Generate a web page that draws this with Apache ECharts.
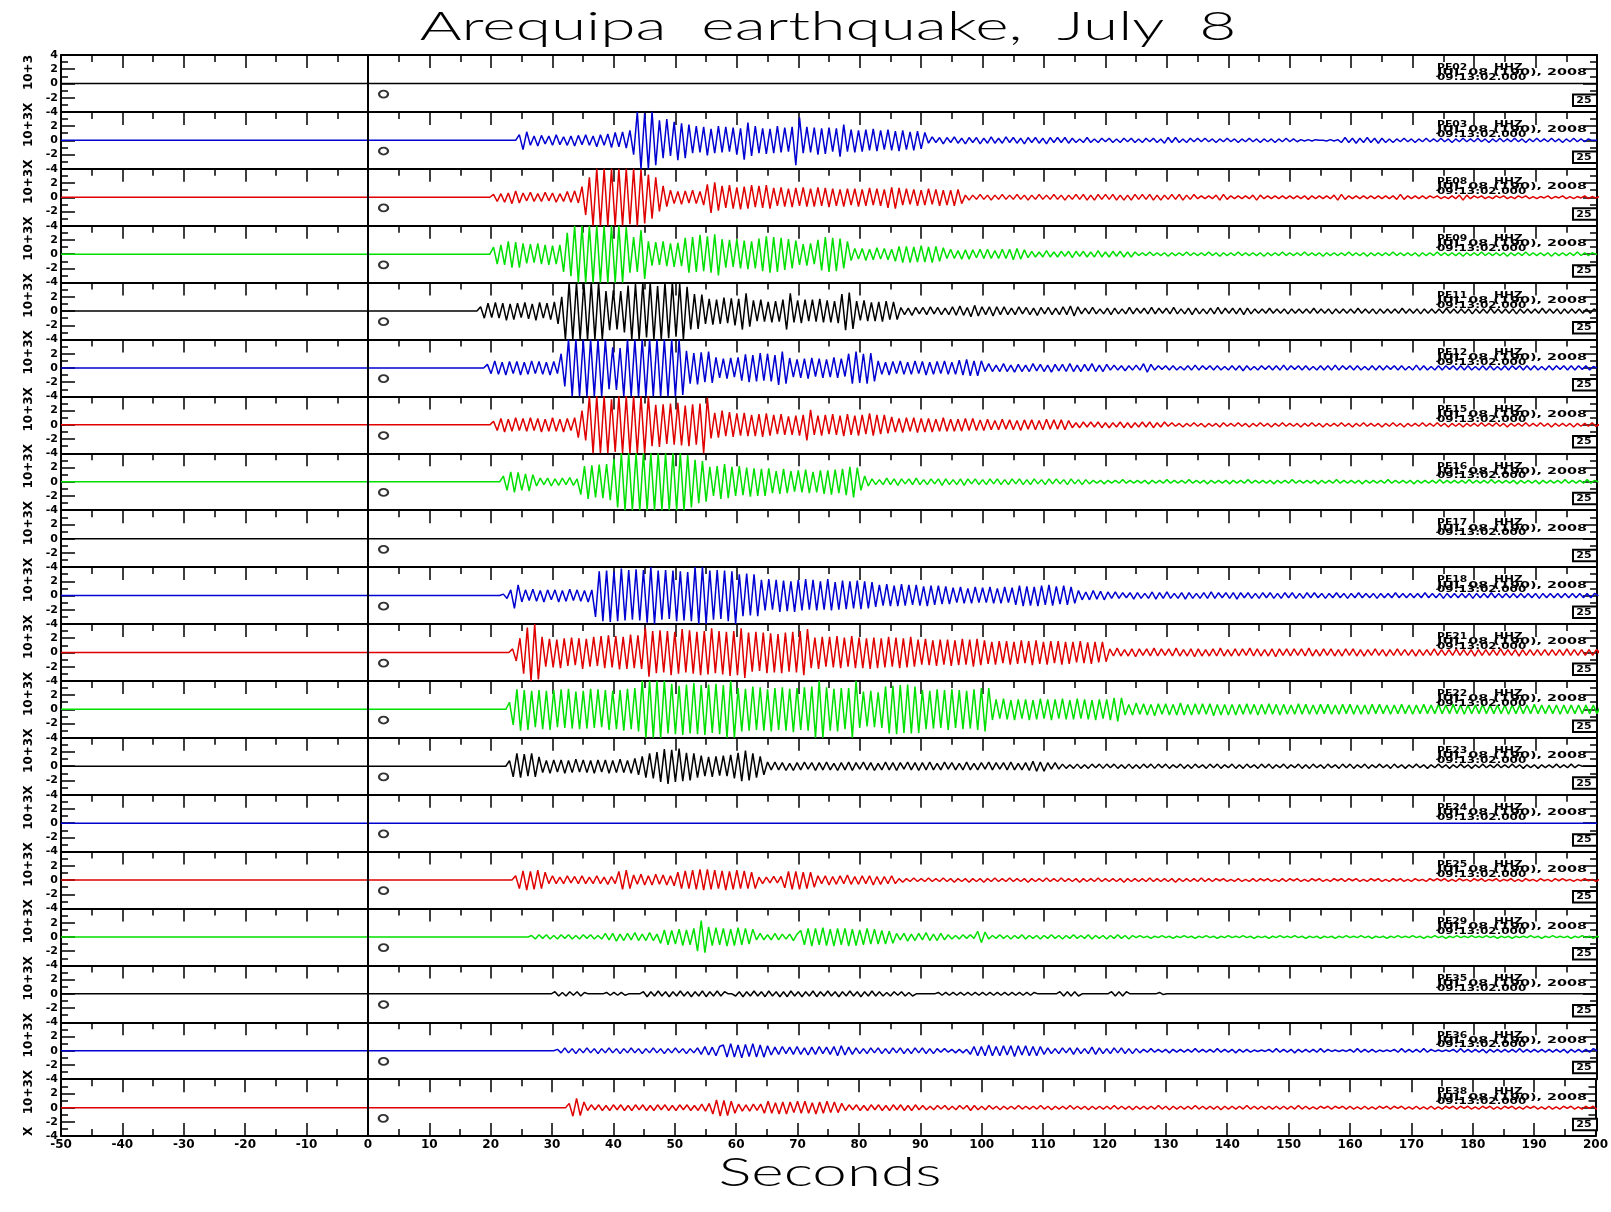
<!DOCTYPE html>
<html>
<head>
<meta charset="utf-8">
<script src="https://cdn.jsdelivr.net/npm/echarts@6/dist/echarts.min.js"></script>
<style>html,body{margin:0;padding:0;background:#fff}#chart{width:1611px;height:1212px}</style>
</head>
<body>
<div id="chart"></div>
<script>
// ---------------- DATA ----------------
const STATIONS = ['PE02','PE03','PE08','PE09','PE11','PE12','PE15','PE16','PE17','PE18','PE21','PE22','PE23','PE24','PE25','PE29','PE35','PE36','PE38'];
const ONSET = [null,24.0,19.8,19.8,17.7,18.8,19.8,21.4,null,21.4,22.9,22.4,22.4,null,23.4,26.0,29.8,30.2,32.2]; // seconds
const TIME_STEP = 0.6;            // seconds between successive peak values
const X_TICKS = [-50,-40,-30,-20,-10,0,10,20,30,40,50,60,70,80,90,100,110,120,130,140,150,160,170,180,190,200];
const Y_TICKS = [-4,-2,0,2,4];
const CHANNEL = 'HHZ';
const DATE_TEXT = 'JUL 08 (190), 2008';
const TIME_TEXT = '09:13:02.000';
const GAIN_TEXT = '25';
const ORIGIN_MARK = [2.5, -1.5];

// peak amplitudes in tenths of a unit (x 10+3)
const PE02 = [];
const PE03 = [8,-13,12,-7,6,-8,7,-5,6,-7,8,-6,5,-7,6,-8,7,-6,8,-7,6,-9,8,-7,9,-10,11,-9,12,-11,14,-20,40,-40,38,-40,40,-35,28,-25,30,-22,26,-28,24,-25,22,-18,20,-17,19,-21,16,-18,20,-17,19,-16,18,-20,17,-27,25,-22,20,-18,17,-19,16,-18,20,-17,18,-16,19,-35,32,-18,19,-17,18,-20,17,-19,18,-16,17,-23,22,-16,15,-17,14,-16,15,-14,16,-15,14,-13,15,-14,13,-15,14,-13,12,-14,13,-12,11,-4,5,-3,4,-5,4,-3,5,-4,3,-5,4,-3,4,-5,3,-4,5,-4,3,-4,5,-3,4,-4,3,-5,4,-3,4,-4,3,-5,4,-3,4,-3,4,-4,3,-3,2,-3,4,-3,2,-3,3,-2,3,-3,2,-3,3,-2,3,-3,2,-3,3,-2,3,-3,2,-4,4,-3,4,-3,2,-3,3,-2,3,-2,3,-2,2,-3,2,-2,3,-2,2,-3,2,-2,3,-2,2,-3,2,-2,2,-3,2,-2,3,-2,2,-2,1,-1,1,-1,1,0,0,-1,1,-1,1,-3,4,-3,3,-4,3,-3,4,-3,3,-4,3,-3,2,-3,2,-2,3,-2,2,-3,2,-2,3,-2,2,-2,3,-2,2,-3,2,-2,3,-2,2,-2,3,-2,2,-3,2,-2,3,-2,2,-2,3,-2,2,-3,2,-2,3,-2,2,-2,3,-2,2,-3,2,-2,3,-2,2,-2,2];
const PE08 = [4,-6,5,-7,6,-9,9,-8,6,-5,7,-6,5,-6,7,-5,6,-7,5,-6,8,-7,9,-8,15,-25,28,-40,40,-40,40,-40,40,-40,40,-40,40,-38,40,-40,39,-37,32,-30,28,-20,16,-13,10,-9,8,-10,9,-8,10,-9,8,-11,18,-22,21,-19,16,-15,17,-16,14,-17,15,-16,17,-14,16,-15,17,-16,13,-12,14,-13,12,-14,13,-12,14,-13,12,-13,14,-12,13,-14,12,-12,11,-13,12,-11,12,-13,11,-12,13,-11,12,-12,11,-15,14,-16,13,-11,12,-10,11,-12,10,-11,12,-10,11,-12,10,-11,10,-12,11,-9,3,-4,3,-3,4,-3,3,-4,3,-3,4,-3,3,-3,4,-3,3,-4,3,-3,4,-3,3,-3,4,-3,3,-4,3,-3,4,-3,4,-4,3,-4,4,-3,4,-3,4,-4,3,-4,3,-4,4,-3,4,-3,4,-4,3,-4,3,-3,4,-3,4,-4,3,-3,4,-2,2,-2,2,-2,3,-4,4,-3,2,-2,2,-2,2,-2,3,-4,3,-2,2,-2,2,-2,2,-2,2,-2,2,-2,2,-3,2,-2,2,-2,2,-2,3,-4,4,-3,2,-2,2,-2,2,-2,2,-2,2,-2,2,-2,2,-3,4,-3,2,-2,2,-2,2,-2,2,-1,2,-2,1,-2,2,-2,3,-4,3,-2,2,-1,2,-2,1,-2,2,-1,2,-2,1,-2,2,-1,2,-2,1,-2,1,-1,2,-2,1,-1,2,-2,1,-2,1,-1,2,-2,1,-1,1,-1,1];
const PE09 = [10,-14,13,-15,18,-19,17,-19,15,-13,14,-12,15,-14,13,-15,12,-14,13,-25,30,-31,40,-40,40,-40,40,-40,40,-40,40,-40,40,-40,40,-40,38,-26,24,-25,34,-35,18,-16,17,-15,18,-17,15,-18,16,-17,23,-26,24,-25,27,-24,25,-26,28,-30,21,-19,20,-18,21,-20,19,-21,18,-20,22,-24,25,-26,24,-25,23,-22,21,-20,19,-15,14,-16,15,-14,20,-23,24,-25,23,-24,22,-20,18,-9,8,-7,8,-9,7,-8,9,-7,8,-8,7,-10,11,-12,11,-12,10,-11,12,-11,10,-12,11,-10,9,-6,7,-6,5,-7,6,-7,6,-5,7,-6,7,-6,5,-6,7,-6,7,-8,8,-7,6,-5,4,-4,3,-4,5,-4,3,-4,4,-3,4,-5,4,-3,4,-4,3,-4,5,-4,3,-4,4,-3,4,-4,3,-4,3,-2,2,-2,3,-2,2,-2,2,-3,2,-2,2,-2,3,-2,2,-2,2,-2,3,-2,2,-3,2,-2,2,-2,3,-2,2,-2,2,-2,2,-3,2,-2,2,-2,3,-2,2,-2,2,-2,3,-2,2,-2,2,-3,2,-2,2,-2,2,-2,3,-2,2,-2,2,-3,2,-2,2,-2,2,-2,3,-2,2,-2,2,-2,2,-3,2,-2,2,-2,3,-2,2,-2,2,-2,2,-3,2,-2,2,-2,3,-2,2,-2,2,-2,2,-3,2,-2,2,-2,3,-2,2,-2,2,-2,2,-3,2,-2,2,-2,2,-2,3,-2,2,-2,2];
const PE11 = [6,-10,11,-9,12,-10,11,-13,10,-12,11,-9,12,-11,10,-13,12,-10,11,-12,13,-18,20,-40,40,-40,40,-40,40,-40,40,-40,40,-40,28,-27,29,-26,28,-30,36,-40,38,-40,40,-37,40,-40,35,-40,40,-38,40,-36,38,-40,34,-26,24,-25,23,-18,17,-19,16,-18,19,-17,18,-20,17,-26,25,-22,15,-14,16,-15,13,-16,14,-15,16,-26,25,-16,15,-17,16,-14,16,-15,17,-16,15,-16,14,-17,24,-27,26,-25,14,-13,15,-14,12,-14,13,-15,14,-12,13,-12,5,-5,4,-6,5,-4,5,-5,6,-4,5,-5,4,-5,6,-6,7,-6,5,-8,8,-7,6,-5,6,-7,6,-5,6,-5,4,-5,6,-4,5,-5,4,-6,5,-4,5,-5,4,-5,6,-5,7,-7,6,-4,4,-4,5,-4,3,-4,4,-5,4,-4,3,-4,5,-4,4,-3,4,-4,5,-4,4,-3,4,-4,5,-4,3,-4,4,-5,4,-4,3,-4,4,-4,5,-4,4,-3,4,-4,4,-5,4,-4,3,-3,3,-3,4,-3,3,-3,3,-4,3,-3,3,-3,3,-3,4,-3,3,-3,3,-4,3,-3,3,-3,3,-3,4,-3,3,-3,3,-4,3,-3,3,-3,3,-3,4,-3,3,-3,3,-4,3,-3,3,-3,3,-3,4,-3,3,-3,3,-3,3,-4,3,-3,3,-3,4,-3,3,-3,3,-3,3,-4,3,-3,3,-3,3,-3,4,-3,3,-3,3,-4,3,-3,3,-3,3,-3,3,-3,3];
const PE12 = [5,-8,10,-9,8,-10,9,-8,9,-10,8,-9,10,-8,9,-9,8,-10,9,-8,20,-26,40,-40,40,-40,40,-40,40,-40,40,-40,40,-30,29,-31,28,-40,40,-40,40,-40,40,-40,40,-40,40,-40,40,-40,40,-40,40,-38,24,-22,21,-23,22,-20,23,-21,15,-14,13,-15,14,-13,15,-18,19,-20,18,-19,21,-18,20,-19,18,-24,23,-22,14,-13,12,-14,13,-15,14,-12,13,-14,12,-13,15,-14,13,-12,20,-22,23,-21,20,-22,21,-19,10,-9,8,-10,9,-8,10,-9,8,-9,10,-8,9,-10,8,-9,9,-8,10,-9,8,-9,11,-10,12,-11,10,-11,10,-5,6,-5,4,-5,6,-5,4,-6,5,-5,4,-5,6,-4,5,-5,4,-6,5,-4,5,-5,6,-5,4,-5,5,-4,6,-5,4,-5,5,-3,4,-3,3,-4,3,-3,4,-3,6,-6,5,-3,3,-2,3,-3,3,-3,2,-3,3,-3,4,-3,3,-2,3,-3,3,-3,2,-3,3,-3,3,-4,3,-3,2,-3,3,-2,3,-3,3,-3,4,-3,3,-2,3,-3,3,-3,2,-3,3,-3,3,-3,4,-3,3,-2,3,-3,3,-3,2,-3,3,-3,3,-3,3,-2,3,-3,3,-3,2,-3,4,-3,3,-3,2,-3,3,-3,3,-2,3,-3,3,-3,3,-3,2,-3,3,-3,3,-3,2,-3,3,-3,3,-2,3,-3,3,-3,3,-3,2,-3,3,-3,3,-2,3,-3,3,-3,3,-2,3,-3,2];
const PE15 = [5,-8,9,-10,8,-9,10,-8,9,-9,10,-8,9,-10,8,-9,10,-9,8,-10,9,-8,10,-18,20,-22,40,-40,40,-40,40,-40,36,-38,40,-40,40,-40,40,-40,40,-40,40,-30,28,-31,29,-27,30,-28,31,-29,27,-30,29,-28,30,-40,38,-19,17,-18,20,-16,18,-17,16,-15,17,-16,14,-16,15,-17,16,-15,14,-13,15,-14,12,-14,13,-15,14,-22,21,-14,13,-15,14,-13,15,-14,13,-16,15,-14,13,-15,14,-13,16,-15,14,-13,14,-12,11,-10,9,-11,10,-9,10,-11,9,-10,9,-10,8,-9,10,-9,8,-9,8,-9,9,-8,9,-8,7,-8,8,-7,6,-7,8,-6,7,-7,6,-8,7,-6,7,-7,6,-7,8,-6,7,-6,7,-7,6,-4,3,-4,4,-3,4,-3,4,-4,3,-4,3,-3,4,-4,3,-4,3,-3,4,-3,4,-4,3,-3,4,-2,3,-2,2,-3,2,-2,3,-2,2,-3,2,-2,2,-3,3,-2,2,-2,3,-2,2,-3,2,-2,3,-2,2,-3,2,-2,3,-2,2,-2,2,-3,2,-2,3,-2,2,-3,2,-2,2,-2,3,-2,2,-3,2,-2,3,-2,2,-2,2,-3,2,-2,3,-2,2,-3,2,-2,2,-2,3,-2,2,-2,3,-2,2,-3,2,-2,2,-3,2,-2,2,-2,3,-2,2,-2,3,-2,2,-3,2,-2,2,-2,3,-2,2,-2,3,-2,2,-3,2,-2,2,-2,2,-3,2,-2,2,-2,3,-2];
const PE16 = [8,-12,14,-15,13,-12,11,-13,10,-6,5,-4,5,-6,4,-5,5,-4,6,-5,4,-18,22,-24,23,-22,24,-23,25,-26,32,-36,40,-40,40,-40,40,-40,40,-40,40,-40,40,-40,40,-40,40,-40,40,-40,38,-36,31,-30,29,-28,21,-20,22,-24,25,-23,21,-20,22,-19,20,-21,19,-20,18,-20,19,-16,15,-17,18,-16,15,-14,16,-15,17,-16,14,-15,16,-17,16,-18,17,-16,18,-19,21,-22,20,-12,8,-6,4,-4,3,-4,5,-4,4,-5,4,-3,4,-4,5,-4,3,-4,4,-3,4,-5,4,-4,3,-4,4,-5,4,-3,4,-4,3,-4,4,-3,4,-4,3,-4,4,-3,4,-4,3,-4,4,-3,3,-4,4,-3,4,-3,3,-4,4,-3,3,-4,3,-3,2,-2,2,-3,2,-2,2,-2,3,-2,2,-2,2,-2,2,-3,2,-2,2,-2,3,-2,2,-2,2,-2,3,-2,2,-2,2,-3,2,-2,2,-2,2,-3,2,-2,2,-2,3,-2,2,-2,2,-2,2,-3,2,-2,2,-2,3,-2,2,-2,2,-2,2,-3,2,-2,2,-2,3,-2,2,-2,2,-2,2,-3,2,-2,2,-2,2,-2,3,-2,2,-2,2,-2,2,-3,2,-2,2,-2,2,-2,3,-2,2,-2,2,-2,2,-2,3,-2,2,-2,2,-2,3,-2,2,-2,2,-2,2,-3,2,-2,2,-2,2,-3,2,-2,2,-2,2,-2,3,-2,2,-2,2,-2,3,-2,2];
const PE17 = [];
const PE18 = [2,-4,8,-18,15,-9,8,-7,9,-8,7,-9,8,-6,8,-9,7,-8,9,-7,8,-8,7,-9,8,-30,34,-36,35,-37,34,-36,38,-35,36,-34,37,-35,36,-38,40,-40,35,-34,36,-33,35,-36,34,-35,33,-36,40,-40,40,-40,35,-34,36,-33,35,-36,34,-40,30,-29,31,-28,30,-29,22,-21,23,-20,22,-23,21,-22,20,-23,22,-21,23,-20,22,-21,20,-20,23,-21,19,-20,21,-19,20,-18,21,-19,20,-18,19,-16,15,-14,16,-15,14,-15,16,-14,15,-13,15,-14,13,-15,14,-13,14,-12,13,-12,11,-10,12,-11,10,-11,12,-10,11,-10,12,-11,10,-11,12,-10,11,-13,14,-15,13,-14,12,-15,14,-13,15,-14,13,-12,14,-13,12,-11,7,-6,5,-6,7,-5,6,-6,5,-4,5,-4,4,-3,4,-5,4,-4,3,-4,5,-5,4,-4,5,-4,3,-4,4,-5,4,-4,3,-4,4,-4,5,-4,4,-3,4,-4,4,-5,4,-3,4,-4,3,-4,4,-3,4,-4,3,-4,4,-3,4,-4,3,-4,4,-3,4,-3,3,-4,3,-3,4,-3,3,-4,3,-3,4,-3,3,-3,3,-4,3,-3,3,-3,4,-3,3,-3,3,-3,3,-3,4,-3,3,-3,3,-4,3,-3,3,-3,3,-3,3,-4,3,-3,3,-3,4,-3,3,-3,3,-3,3,-3,3,-3,3,-3,3,-4,3,-3,3,-3,3,-3,3,-3,3,-3,3,-3,3,-3,3];
const PE21 = [5,-12,20,-30,35,-40,40,-38,22,-20,19,-21,18,-22,20,-19,21,-18,20,-23,19,-20,22,-19,23,-22,24,-21,23,-24,22,-23,25,-22,24,-23,35,-34,30,-29,31,-28,30,-32,29,-30,33,-28,31,-30,29,-32,30,-31,34,-29,30,-31,29,-33,30,-32,34,-36,28,-27,29,-26,28,-29,27,-28,26,-29,28,-27,29,-28,30,-32,33,-22,21,-23,22,-20,22,-21,23,-22,21,-20,23,-22,21,-22,20,-23,21,-22,20,-21,22,-20,21,-22,20,-21,22,-20,18,-17,19,-18,17,-19,18,-17,18,-19,17,-18,19,-17,18,-20,19,-18,17,-16,15,-17,16,-15,16,-17,15,-16,17,-15,16,-18,17,-16,15,-17,16,-15,16,-17,15,-16,15,-14,16,-15,14,-16,15,-14,15,-13,5,-5,6,-5,4,-5,5,-6,5,-4,5,-5,6,-5,5,-4,5,-5,6,-5,4,-5,5,-6,5,-5,4,-5,5,-5,6,-5,4,-5,5,-5,5,-4,6,-5,5,-5,4,-5,5,-6,5,-4,5,-5,5,-4,5,-5,6,-5,4,-5,5,-4,5,-5,4,-5,5,-4,5,-5,4,-5,4,-4,5,-4,4,-5,4,-4,5,-4,4,-4,4,-5,4,-4,4,-4,5,-4,4,-4,4,-4,5,-4,4,-4,4,-5,4,-4,4,-4,4,-4,5,-4,4,-4,4,-5,4,-4,4,-4,4,-4,4,-4,4,-4,4,-4,5,-4,4,-4,4,-4,4,-4,4];
const PE22 = [10,-22,28,-30,27,-29,26,-25,27,-28,26,-29,27,-25,28,-26,29,-27,25,-28,26,-27,29,-26,28,-25,27,-29,26,-28,27,-30,29,-28,30,-31,40,-40,40,-40,40,-40,40,-34,36,-35,33,-36,35,-34,37,-35,34,-36,35,-33,36,-35,34,-40,40,-40,30,-31,29,-30,32,-29,31,-30,28,-31,30,-29,31,-30,29,-32,30,-29,31,-30,32,-40,40,-40,31,-30,29,-31,30,-28,30,-40,40,-26,25,-24,26,-25,24,-26,32,-34,33,-35,34,-33,35,-34,32,-33,27,-28,26,-27,28,-26,27,-29,28,-26,27,-28,26,-27,28,-29,30,-31,30,-15,14,-13,15,-14,13,-15,14,-13,14,-15,13,-14,15,-13,14,-15,14,-13,15,-14,13,-14,15,-13,14,-14,13,-15,14,-13,14,-15,16,-17,16,-8,7,-8,9,-7,8,-8,7,-9,8,-7,8,-8,7,-8,9,-8,7,-8,8,-7,8,-7,8,-9,7,-8,7,-8,7,-8,7,-7,8,-7,7,-8,7,-7,8,-7,7,-8,7,-7,6,-7,8,-7,7,-7,6,-7,7,-6,7,-7,6,-7,7,-6,7,-7,6,-7,6,-7,7,-6,7,-6,6,-7,6,-6,7,-6,6,-7,6,-6,7,-6,6,-6,7,-6,6,-6,7,-6,6,-7,6,-6,6,-6,7,-6,6,-6,6,-6,6,-7,6,-6,6,-6,6,-6,7,-6,6,-6,6,-6,6,-7,6,-6,6,-6,6,-6,6,-6,6,-6,6];
const PE23 = [8,-15,18,-16,17,-14,18,-15,13,-9,8,-10,9,-8,9,-10,8,-9,10,-8,9,-9,8,-10,9,-8,9,-10,8,-9,10,-9,8,-10,11,-12,14,-16,18,-17,20,-22,24,-25,23,-22,25,-21,19,-20,18,-16,15,-14,13,-15,14,-13,15,-14,16,-17,19,-21,22,-20,18,-16,14,-12,6,-5,6,-5,5,-6,4,-6,5,-5,6,-4,5,-6,5,-5,6,-5,4,-6,5,-5,6,-6,5,-4,6,-5,5,-6,4,-5,6,-5,5,-6,5,-4,6,-5,5,-6,5,-5,6,-5,4,-5,6,-4,5,-5,4,-5,6,-5,4,-5,5,-4,6,-5,5,-4,5,-5,6,-5,4,-5,5,-6,7,-7,6,-7,5,-4,5,-4,3,-3,2,-3,3,-3,2,-3,3,-2,3,-3,3,-2,3,-3,2,-3,3,-3,2,-3,3,-2,3,-3,3,-2,3,-3,2,-2,3,-3,2,-3,3,-2,2,-3,3,-2,3,-3,2,-2,3,-3,2,-3,3,-2,2,-3,3,-2,3,-3,2,-2,3,-3,2,-2,3,-3,2,-3,3,-2,2,-3,3,-2,2,-3,3,-2,3,-3,2,-2,3,-3,2,-2,3,-2,2,-3,3,-2,2,-3,2,-2,3,-2,2,-3,2,-2,3,-2,2,-3,2,-2,3,-2,2,-3,2,-2,3,-2,2,-2,3,-2,2,-2,3,-2,2,-3,2,-2,2,-3,2,-2,2,-2,3,-2,2,-2,3,-2,2];
const PE24 = [];
const PE25 = [6,-12,13,-14,12,-13,14,-12,11,-5,6,-5,4,-5,6,-4,5,-5,6,-5,4,-5,6,-5,4,-6,5,-5,12,-13,14,-12,7,-6,8,-7,6,-7,8,-6,7,-7,6,-8,11,-12,13,-12,14,-13,15,-14,15,-13,14,-12,13,-14,12,-13,14,-12,13,-12,11,-12,4,-5,4,-4,5,-4,5,-11,12,-13,12,-13,11,-12,11,-10,6,-5,6,-7,5,-6,6,-5,7,-6,5,-6,6,-5,6,-7,5,-6,5,-5,6,-5,2,-3,2,-2,3,-2,2,-2,3,-2,2,-2,3,-2,2,-3,2,-2,2,-3,2,-2,2,-3,2,-2,3,-2,2,-2,3,-2,2,-2,2,-3,2,-2,2,-2,3,-2,2,-2,3,-2,2,-2,2,-3,2,-2,2,-2,3,-2,2,-2,2,-2,2,-3,2,-2,2,-2,2,-2,3,-2,2,-2,2,-2,2,-3,2,-2,2,-2,2,-2,3,-2,2,-2,2,-1,2,-2,1,-2,2,-2,1,-2,2,-2,2,-1,2,-2,1,-2,2,-2,2,-1,2,-2,1,-2,2,-1,2,-2,1,-2,2,-1,2,-2,2,-1,2,-2,1,-2,2,-1,2,-2,1,-2,2,-1,2,-2,1,-2,2,-1,1,-2,2,-1,2,-1,2,-2,1,-2,2,-1,1,-2,2,-1,2,-2,1,-1,2,-2,1,-1,2,-2,1,-2,2,-1,1,-2,2,-1,1,-2,2,-1,2,-1,1,-2,1,-1,2,-1,1,-2,1,-1];
const PE29 = [2,-3,3,-2,3,-3,2,-3,3,-2,3,-3,2,-3,3,-2,3,-3,2,-3,5,-4,5,-6,4,-5,5,-4,6,-5,4,-5,6,-5,4,-9,10,-11,9,-10,11,-12,10,-11,12,-20,23,-22,14,-12,13,-11,12,-13,11,-12,13,-11,12,-10,11,-4,5,-4,3,-4,5,-4,4,-3,4,-5,4,9,-11,12,-13,12,-11,13,-12,11,-13,12,-11,12,-13,11,-12,10,-11,12,-10,11,-10,9,-10,8,-9,5,-4,5,-6,4,-5,5,-4,6,-5,4,-5,5,-4,3,-3,2,-3,3,-2,3,-2,8,-8,7,-3,2,-2,3,-2,2,-3,2,-2,3,-3,2,-2,2,-3,2,-2,3,-2,2,-3,2,-2,3,-2,2,-2,3,-3,2,-2,2,-3,2,-2,3,-2,2,-3,2,-1,2,-1,1,-2,1,-1,2,-1,1,-2,1,-1,2,-1,1,-2,1,-1,2,-1,1,-2,1,-1,2,-1,1,-1,2,-1,1,-2,1,-1,1,-2,1,-1,2,-1,1,-1,2,-1,1,-2,1,-1,1,-2,1,-1,1,-2,1,-1,2,-1,1,-1,2,-1,1,-2,1,-1,1,-2,1,-1,2,-1,1,-1,2,-1,1,-2,1,-1,2,-1,1,-2,1,-1,2,-1,1,-1,2,-1,1,-1,2,-1,1,-2,1,-1,1,-2,1,-1,1,-1,2,-1,1,-2,1,-1,2,-1,1,-1,1,-2,1,-1,2,-1,1,-2,1,-1];
const PE35 = [3,-3,2,-3,3,-2,3,-3,2,0,0,0,0,0,2,-2,2,-2,2,-2,0,0,0,0,3,-4,3,-3,4,-3,3,-4,3,-3,4,-3,3,-4,3,-3,4,-4,3,-3,4,-3,3,0,0,-3,3,-4,3,-3,4,-3,3,-4,4,-3,3,-4,3,-4,4,-3,3,-4,3,-3,4,-4,3,-3,4,-3,3,-4,3,-3,4,-3,3,-4,3,-3,4,-3,3,-3,2,-3,3,-2,3,-3,2,-3,0,0,0,0,0,0,2,-2,2,-2,2,-2,2,-2,2,-2,2,-2,2,-2,2,-2,2,-2,2,-2,2,-2,2,-2,2,-2,2,0,0,0,0,0,0,3,-3,3,-3,3,-3,0,0,0,0,0,0,0,0,3,-3,3,-3,3,0,0,0,0,0,0,0,0,2,-1];
const PE36 = [2,-3,4,-3,3,-4,3,-3,4,-3,3,-4,3,-3,4,-3,3,-4,3,-3,4,-3,3,-4,3,-3,4,-3,3,-4,3,-3,4,-3,3,-4,3,-3,4,-5,6,-6,5,-7,6,8,-9,10,-9,8,-10,9,-8,10,-9,8,-9,7,-6,5,-5,6,-4,5,-5,6,-5,4,-6,5,-5,6,-4,5,-5,6,-7,7,-6,5,-5,4,-4,3,-4,4,-3,4,-4,3,-4,4,-3,4,-4,3,-4,4,-3,4,-4,3,-4,3,-2,3,-2,2,-3,2,-3,2,-5,6,-7,6,-7,8,-7,6,-7,7,-6,7,-8,7,-6,7,-7,6,-7,6,-5,4,-4,3,-4,4,-3,4,-5,4,-4,3,-4,5,-5,4,-4,3,-4,4,-3,4,-4,3,-4,3,-3,2,-2,3,-2,2,-2,2,-3,2,-2,2,-2,2,-2,3,-2,2,-2,2,-2,3,-2,2,-2,2,-3,2,-2,2,-2,1,-1,1,-1,2,-2,3,-2,2,-2,2,-3,2,-2,2,-2,2,-2,3,-2,2,-1,1,-1,1,-1,2,-2,3,-2,2,-2,2,-2,1,-1,1,-1,2,-2,3,-2,2,-2,2,-2,3,-2,2,-1,1,-1,1,-1,2,-2,3,-2,2,-2,2,-2,2,-3,2,-2,2,-2,2,-2,2,-2,3,-2,2,-2,2,-2,2,-2,2,-2,2,-2,2,-3,2,-2,2,-2,2,-2,3];
const PE38 = [6,-12,13,-11,8,-4,4,-3,4,-4,3,-4,4,-3,4,-4,3,-4,4,-3,4,-4,3,-4,4,-3,4,-4,3,-4,4,-3,4,-4,3,-4,5,-5,6,-9,11,-12,10,-11,9,-8,5,-5,4,-5,5,-4,5,-8,9,-8,7,-9,8,-9,8,-7,9,-8,9,-8,7,-9,8,-8,9,-7,8,-7,6,-4,4,-3,4,-4,3,-4,4,-3,4,-4,3,-4,4,-3,4,-4,3,-4,4,-3,3,-3,2,-3,3,-2,3,-3,2,-3,3,-2,3,-4,3,-3,2,-3,3,-2,2,-3,2,-2,2,-2,3,-2,2,-2,2,-2,3,-2,2,-3,2,-2,2,-2,3,-2,2,-2,2,-3,2,-2,2,-2,2,-2,3,-2,2,-2,2,-3,2,-2,2,-2,2,-2,3,-2,2,-3,2,-2,2,-2,2,-2,3,-2,2,-2,2,-2,2,-3,2,-2,2,-2,2,-2,3,-2,2,-2,2,-2,2,-2,2,-2,2,-2,2,-2,3,-2,2,-2,1,-2,2,-1,2,-2,2,-1,2,-2,2,-2,1,-2,2,-2,1,-2,2,-1,2,-2,2,-1,2,-2,1,-2,2,-2,1,-2,2,-2,1,-2,2,-1,2,-2,2,-1,2,-2,1,-2,2,-1,2,-2,1,-2,2,-1,2,-2,1,-2,2,-1,2,-2,1,-2,2,-2,1,-2,2,-1,2,-2,1,-2,2,-1,2,-2,1,-2,2];

const TRACES = [PE02,PE03,PE08,PE09,PE11,PE12,PE15,PE16,PE17,PE18,PE21,PE22,PE23,PE24,PE25,PE29,PE35,PE36,PE38];

// ---------------- LAYOUT / STYLE ----------------
const COLORS = ['#000000','#0000d2','#e00000','#00e000'];
const LEFT = 61, RIGHT_EDGE = 1597, TOP = 55, PANEL_H = 56.9;
const N = STATIONS.length;
const FONT = '"DejaVu Sans", sans-serif';
const TITLE_FONT = '300 40px Lato, "DejaVu Sans", sans-serif';

const chart = echarts.init(document.getElementById('chart'), null, {renderer:'canvas', width:1611, height:1212});

const grids = [], xAxes = [], yAxes = [], series = [], graphics = [];
const tickLine = {color:'#000', width:1.5};

for (let i = 0; i < N; i++) {
  const top = TOP + i * PANEL_H;
  grids.push({left: LEFT, width: RIGHT_EDGE - LEFT, top: top, height: PANEL_H});
  xAxes.push({
    gridIndex: i, type: 'value', position: 'top', min: X_TICKS[0], max: X_TICKS[X_TICKS.length-1], interval: 10,
    axisLine: {show: true, onZero: false, lineStyle: {color: '#000', width: 2}},
    axisTick: {show: true, inside: true, length: 13, lineStyle: tickLine},
    minorTick: {show: true, splitNumber: 2, length: 7, lineStyle: tickLine},
    axisLabel: {show: false}, splitLine: {show: false}
  });
  yAxes.push({
    gridIndex: i, type: 'value', position: 'left', min: Y_TICKS[0], max: Y_TICKS[Y_TICKS.length-1], interval: 2,
    name: 'X   10+3', nameLocation: 'middle', nameRotate: 90, nameGap: 24,
    nameTextStyle: {fontFamily: FONT, fontWeight: 'bold', fontSize: 12, color: '#000'},
    axisLine: {show: true, onZero: false, lineStyle: {color: '#000', width: 2}},
    axisTick: {show: true, inside: true, length: 14, lineStyle: tickLine},
    minorTick: {show: true, splitNumber: 2, length: 7, lineStyle: tickLine},
    axisLabel: {show: true, fontFamily: FONT, fontWeight: 'bold', fontSize: 11, color: '#000', margin: 3,
      formatter: (v) => (v === 4 && i > 0) ? '' : String(v)},
    splitLine: {show: false}
  });
  yAxes.push({
    gridIndex: i, type: 'value', position: 'right', min: Y_TICKS[0], max: Y_TICKS[Y_TICKS.length-1], interval: 2,
    axisLine: {show: true, onZero: false, lineStyle: {color: '#000', width: 2}},
    axisTick: {show: true, inside: true, length: 14, lineStyle: tickLine},
    minorTick: {show: true, splitNumber: 2, length: 7, lineStyle: tickLine},
    axisLabel: {show: false}, splitLine: {show: false}
  });

  // trace data: flat baseline until onset, then the peak values, then flat to the end
  const arr = TRACES[i], t0 = ONSET[i];
  const data = [[X_TICKS[0], 0]];
  if (arr.length) {
    data.push([t0, 0]);
    let t = t0;
    for (let k = 0; k < arr.length; k++) { t = t0 + (k + 1) * TIME_STEP; data.push([+t.toFixed(2), arr[k] / 10]); }
    if (t < 200) { data.push([+(t + TIME_STEP).toFixed(2), 0]); data.push([200, 0]); }
  } else {
    data.push([200, 0]);
  }
  series.push({
    type: 'line', xAxisIndex: i, yAxisIndex: 2 * i, data: data, showSymbol: false, symbol: 'none',
    lineStyle: {color: COLORS[i % 4], width: 1.5}, clip: true, z: 3, silent: true
  });
  series.push({
    type: 'scatter', xAxisIndex: i, yAxisIndex: 2 * i, data: [ORIGIN_MARK], symbol: 'circle', symbolSize: [9, 7],
    itemStyle: {color: '#fff', borderColor: '#000', borderWidth: 2}, z: 4, silent: true,
    markLine: {silent: true, symbol: 'none', label: {show: false}, lineStyle: {color: '#000', width: 2, type: 'solid'},
      data: [{xAxis: 0}], animation: false}
  });

  // station annotation
  const tx = 1437;
  graphics.push({type:'text', x: tx, y: top + 13, scaleY: 0.72, scaleX: 0.9, z: 50,
    style:{text: STATIONS[i], font: 'bold 12px ' + FONT, fill:'#000', align:'left', verticalAlign:'middle'}});
  graphics.push({type:'text', x: 1494, y: top + 13, scaleY: 0.72, z: 50,
    style:{text: CHANNEL, font: 'bold 12px ' + FONT, fill:'#000', align:'left', verticalAlign:'middle'}});
  graphics.push({type:'text', x: tx, y: top + 18.3, scaleY: 0.7, scaleX: 1.2, z: 50,
    style:{text: DATE_TEXT, font: 'bold 12px ' + FONT, fill:'#000', align:'left', verticalAlign:'middle'}});
  graphics.push({type:'text', x: tx, y: top + 23, scaleY: 0.7, z: 50,
    style:{text: TIME_TEXT, font: 'bold 12px ' + FONT, fill:'#000', align:'left', verticalAlign:'middle'}});
  graphics.push({type:'rect', z: 50, shape:{x: 1573, y: top + 39.5, width: 24, height: 11.5},
    style:{fill:'#fff', stroke:'#000', lineWidth: 2}});
  graphics.push({type:'text', x: 1584, y: top + 45.5, scaleY: 0.8, z: 51,
    style:{text: GAIN_TEXT, font: 'bold 11px ' + FONT, fill:'#000', align:'center', verticalAlign:'middle'}});
}

// bottom labelled axis of last panel
xAxes.push({
  gridIndex: N - 1, type: 'value', position: 'bottom', min: X_TICKS[0], max: X_TICKS[X_TICKS.length-1], interval: 10,
  axisLine: {show: true, onZero: false, lineStyle: {color: '#000', width: 2}},
  axisTick: {show: true, inside: true, length: 13, lineStyle: tickLine},
  minorTick: {show: true, splitNumber: 2, length: 7, lineStyle: tickLine},
  axisLabel: {show: true, fontFamily: FONT, fontWeight: 'bold', fontSize: 12, color: '#000', margin: 3},
  splitLine: {show: false}
});

graphics.push({type:'text', x: 828, y: 27, scaleX: 1.6, z: 50,
  style:{text: 'Arequipa  earthquake,  July  8', font: TITLE_FONT, fill:'#000', align:'center', verticalAlign:'middle'}});
graphics.push({type:'text', x: 830, y: 1173, scaleX: 1.55, z: 50,
  style:{text: 'Seconds', font: TITLE_FONT, fill:'#000', align:'center', verticalAlign:'middle'}});

chart.setOption({
  animation: false,
  backgroundColor: '#ffffff',
  grid: grids, xAxis: xAxes, yAxis: yAxes, series: series, graphic: graphics
});
</script>
</body>
</html>
